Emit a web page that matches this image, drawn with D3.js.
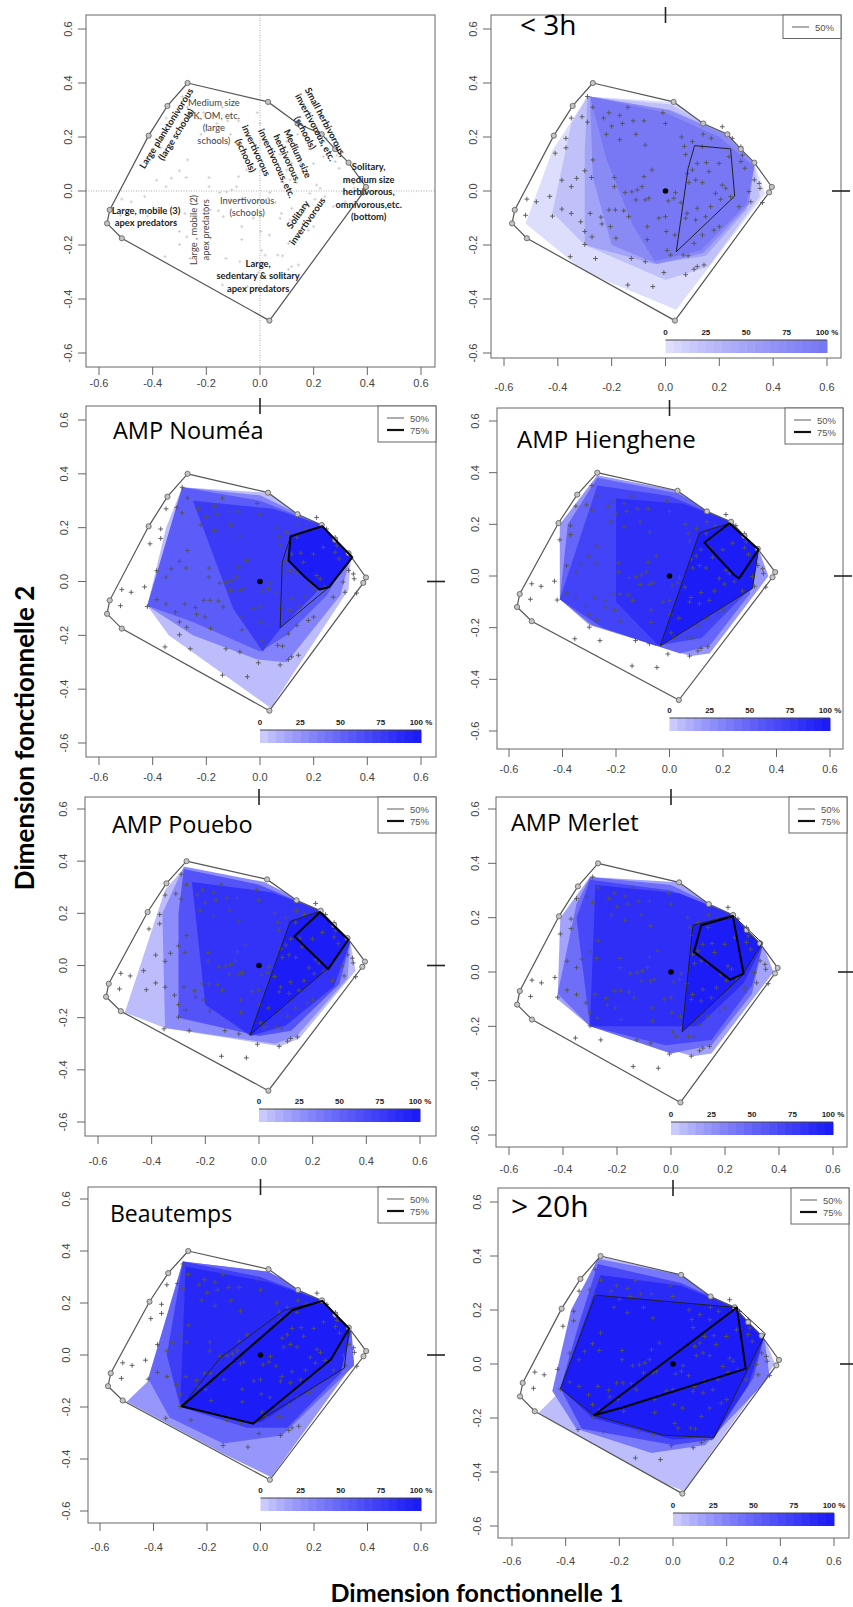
<!DOCTYPE html>
<html>
<head>
<meta charset="utf-8">
<script src="https://d3js.org/d3.v7.min.js"></script>
<style>
  body { margin: 0; background: #fff; }
  svg { display: block; }
</style>
</head>
<body>
<svg id="fig" width="853" height="1607"></svg>
<script>
// ---- data ----
const ticks = [-0.6, -0.4, -0.2, 0, 0.2, 0.4, 0.6];
const tickLabels = ["-0.6", "-0.4", "-0.2", "0.0", "0.2", "0.4", "0.6"];
const barStops = [0, 25, 50, 75, 100];
const barLabels = ["0", "25", "50", "75", "100 %"];

const titles = ["", "< 3h", "AMP Nouméa", "AMP Hienghene", "AMP Pouebo", "AMP Merlet", "Beautemps", "> 20h"];
const legendItems = [[], ["50%"], ["50%", "75%"], ["50%", "75%"], ["50%", "75%"], ["50%", "75%"], ["50%", "75%"], ["50%", "75%"]];

// global convex hull of the functional space
const hull = [[-0.27, 0.40], [0.03, 0.33], [0.14, 0.25], [0.23, 0.21], [0.28, 0.155], [0.33, 0.105],
  [0.395, 0.015], [0.385, -0.005], [0.035, -0.48], [-0.515, -0.175], [-0.57, -0.12], [-0.56, -0.07],
  [-0.415, 0.205], [-0.345, 0.315]];

// species positions
const species = [
  [-0.29, 0.35], [-0.27, 0.31], [-0.21, 0.29], [-0.14, 0.31], [-0.01, 0.29], [-0.31, 0.275], [-0.23, 0.27],
  [-0.17, 0.28], [-0.20, 0.24], [-0.16, 0.25], [-0.12, 0.26], [-0.08, 0.26], [0.0, 0.25], [-0.29, 0.255],
  [-0.35, 0.27], [-0.22, 0.21], [-0.17, 0.19], [-0.11, 0.21], [-0.075, 0.17], [0.06, 0.20], [0.14, 0.21],
  [0.17, 0.195], [0.07, 0.165], [0.075, 0.135], [-0.37, 0.195], [-0.41, 0.14], [-0.37, 0.16], [-0.27, 0.115],
  [-0.30, 0.075], [-0.275, 0.05], [-0.33, 0.047], [-0.385, 0.04], [-0.35, 0.016], [-0.19, 0.05], [-0.08, 0.053],
  [-0.05, 0.078], [-0.19, 0.016], [-0.15, -0.006], [-0.125, -0.003], [-0.105, 0.004], [-0.087, 0.016],
  [0.037, -0.006], [-0.43, -0.02], [-0.515, -0.03], [-0.48, -0.04], [-0.52, -0.09], [-0.385, -0.067],
  [-0.35, -0.083], [-0.42, -0.093], [-0.315, -0.114], [-0.28, -0.083], [-0.24, -0.097], [-0.21, -0.07],
  [-0.186, -0.07], [-0.155, -0.073], [-0.11, -0.033], [-0.075, -0.033], [-0.062, -0.027], [-0.236, -0.122],
  [-0.205, -0.132], [-0.137, -0.095], [-0.068, -0.132], [-0.025, -0.10], [0.0, -0.095], [0.003, -0.15],
  [-0.068, -0.18], [-0.273, -0.17], [-0.184, -0.175], [-0.30, -0.198], [-0.30, -0.15], [-0.26, -0.25],
  [-0.354, -0.243], [-0.127, -0.25], [-0.075, -0.262], [0.006, -0.22], [0.019, -0.237], [0.066, -0.237],
  [0.084, -0.24], [0.106, -0.194], [0.137, -0.163], [0.20, -0.132], [0.18, -0.145], [0.118, -0.28],
  [0.106, -0.29], [0.075, -0.31], [0.143, -0.274], [-0.006, -0.302], [-0.14, -0.348], [-0.047, -0.354],
  [0.035, -0.163], [0.112, -0.107], [0.149, -0.095], [0.08, -0.083], [0.118, -0.064], [0.168, -0.058],
  [0.205, -0.031], [0.186, -0.009], [0.224, 0.01], [0.242, -0.021], [0.211, 0.022], [0.087, 0.031],
  [0.112, 0.041], [0.137, 0.031], [0.10, 0.078], [0.118, 0.102], [0.152, 0.105], [0.199, 0.102],
  [0.236, 0.127], [0.161, 0.072], [0.081, 0.065], [0.28, 0.109], [0.295, 0.084], [0.33, 0.041],
  [0.348, 0.028], [0.351, 0.01], [0.31, -0.002], [0.36, -0.043], [0.317, -0.04], [0.273, -0.058],
  [0.248, 0.195], [0.137, 0.164], [0.10, 0.183], [0.211, 0.238], [0.28, 0.164], [0.286, 0.133],
  [0.031, -0.027], [0.01, -0.037], [0.058, -0.043], [0.075, -0.101]
];

// occupancy layers: [share of occurrence (0..1), polygon]
const shadeLt3h = [
  [0.12, [[-0.29, 0.35], [0.03, 0.33], [0.23, 0.21], [0.33, 0.105], [0.37, -0.01], [0.04, -0.44], [-0.3, -0.3], [-0.52, -0.12], [-0.42, 0.15]]],
  [0.3, [[-0.29, 0.35], [0.02, 0.32], [0.23, 0.21], [0.33, 0.105], [0.35, -0.02], [0.16, -0.28], [0.0, -0.33], [-0.3, -0.2], [-0.42, -0.08], [-0.35, 0.25]]],
  [0.55, [[-0.29, 0.35], [0.02, 0.3], [0.23, 0.21], [0.33, 0.1], [0.3, -0.07], [0.15, -0.24], [-0.04, -0.27], [-0.3, -0.2], [-0.3, 0.15]]],
  [0.8, [[-0.28, 0.35], [0.01, 0.3], [0.22, 0.21], [0.33, 0.1], [0.31, -0.05], [0.14, -0.23], [-0.03, -0.27], [-0.2, -0.2], [-0.27, 0.05]]],
  [1.0, [[-0.28, 0.35], [0.0, 0.29], [0.2, 0.2], [0.33, 0.09], [0.3, -0.05], [0.13, -0.22], [-0.04, -0.26], [-0.12, -0.13], [-0.22, 0.12]]]
];
const shadeNoumea = [
  [0.15, [[-0.29, 0.35], [0.03, 0.33], [0.23, 0.21], [0.34, 0.1], [0.33, -0.03], [0.04, -0.47], [-0.34, -0.2], [-0.42, -0.09], [-0.35, 0.2]]],
  [0.4, [[-0.29, 0.35], [0.0, 0.32], [0.23, 0.21], [0.34, 0.1], [0.3, -0.05], [0.1, -0.3], [-0.01, -0.29], [-0.25, -0.2], [-0.42, -0.09]]],
  [0.6, [[-0.29, 0.35], [0.0, 0.3], [0.23, 0.21], [0.34, 0.1], [0.25, -0.05], [0.1, -0.2], [0.0, -0.26], [-0.25, -0.15], [-0.42, -0.09]]],
  [0.8, [[-0.25, 0.3], [0.05, 0.27], [0.23, 0.21], [0.34, 0.1], [0.2, -0.05], [0.08, -0.17], [0.01, -0.26], [-0.1, -0.1]]],
  [1.0, [[0.114, 0.168], [0.232, 0.205], [0.344, 0.09], [0.257, -0.021], [0.222, -0.03], [0.17, 0.014], [0.106, 0.078]]]
];
const shadeHienghene = [
  [0.3, [[-0.27, 0.39], [0.03, 0.33], [0.23, 0.21], [0.33, 0.11], [0.37, 0.0], [0.15, -0.3], [0.08, -0.31], [-0.3, -0.19], [-0.41, -0.09], [-0.41, 0.2]]],
  [0.55, [[-0.27, 0.38], [0.03, 0.32], [0.23, 0.21], [0.33, 0.11], [0.3, -0.07], [0.15, -0.27], [0.04, -0.3], [-0.29, -0.19], [-0.41, -0.09], [-0.38, 0.2]]],
  [0.75, [[-0.27, 0.35], [0.0, 0.31], [0.23, 0.21], [0.33, 0.11], [0.3, -0.05], [0.12, -0.24], [-0.05, -0.27], [-0.25, -0.2], [-0.41, -0.09]]],
  [0.88, [[-0.2, 0.3], [0.05, 0.28], [0.23, 0.21], [0.33, 0.11], [0.3, -0.04], [-0.04, -0.27], [-0.2, -0.1]]],
  [1.0, [[0.112, 0.168], [0.224, 0.204], [0.333, 0.103], [0.31, -0.048], [-0.035, -0.271]]]
];
const shadePouebo = [
  [0.15, [[-0.29, 0.36], [0.03, 0.31], [0.23, 0.21], [0.34, 0.09], [0.36, -0.02], [0.15, -0.28], [0.08, -0.31], [-0.35, -0.24], [-0.5, -0.18], [-0.35, 0.29]]],
  [0.35, [[-0.28, 0.38], [0.02, 0.32], [0.23, 0.21], [0.34, 0.09], [0.33, -0.05], [0.14, -0.27], [0.06, -0.3], [-0.35, -0.24], [-0.36, 0.2]]],
  [0.65, [[-0.28, 0.37], [0.0, 0.31], [0.23, 0.21], [0.34, 0.09], [0.3, -0.07], [0.12, -0.25], [0.0, -0.27], [-0.3, -0.2], [-0.3, 0.2]]],
  [0.85, [[-0.25, 0.32], [0.05, 0.28], [0.23, 0.21], [0.34, 0.09], [0.28, -0.08], [0.1, -0.23], [-0.03, -0.27], [-0.2, -0.15]]],
  [1.0, [[0.116, 0.169], [0.227, 0.208], [0.333, 0.099], [0.258, -0.01], [-0.034, -0.267]]]
];
const shadeMerlet = [
  [0.25, [[-0.3, 0.35], [0.03, 0.33], [0.23, 0.21], [0.34, 0.1], [0.38, 0.0], [0.15, -0.3], [0.08, -0.31], [-0.3, -0.2], [-0.42, -0.1], [-0.41, 0.2]]],
  [0.5, [[-0.3, 0.35], [0.0, 0.32], [0.23, 0.21], [0.34, 0.1], [0.3, -0.08], [0.15, -0.27], [0.0, -0.3], [-0.3, -0.2], [-0.42, -0.08], [-0.35, 0.25]]],
  [0.72, [[-0.3, 0.34], [0.0, 0.3], [0.23, 0.21], [0.34, 0.1], [0.3, -0.05], [0.15, -0.25], [-0.02, -0.27], [-0.3, -0.2], [-0.35, 0.2]]],
  [0.88, [[-0.28, 0.32], [0.03, 0.29], [0.23, 0.21], [0.34, 0.1], [0.27, -0.04], [0.1, -0.2], [-0.3, -0.2]]],
  [1.0, [[0.081, 0.172], [0.229, 0.209], [0.338, 0.107], [0.262, -0.015], [0.041, -0.221]]]
];
const shadeBeautemps = [
  [0.3, [[-0.29, 0.36], [0.03, 0.32], [0.23, 0.21], [0.33, 0.11], [0.35, -0.03], [0.04, -0.47], [-0.14, -0.38], [-0.5, -0.18], [-0.42, -0.1]]],
  [0.55, [[-0.29, 0.36], [0.03, 0.32], [0.23, 0.21], [0.34, 0.1], [0.35, -0.04], [0.08, -0.31], [-0.14, -0.34], [-0.34, -0.24], [-0.42, -0.09]]],
  [0.78, [[-0.29, 0.36], [0.0, 0.3], [0.23, 0.21], [0.34, 0.1], [0.3, -0.07], [0.1, -0.28], [-0.05, -0.28], [-0.3, -0.2], [-0.35, 0.0]]],
  [0.92, [[-0.28, 0.34], [0.03, 0.28], [0.23, 0.21], [0.34, 0.1], [0.3, -0.06], [0.0, -0.26], [-0.3, -0.2]]],
  [1.0, [[-0.294, -0.197], [0.119, 0.172], [0.231, 0.208], [0.331, 0.102], [0.263, -0.017], [-0.028, -0.264]]]
];
const shadeGt20h = [
  [0.15, [[-0.28, 0.4], [0.03, 0.33], [0.23, 0.21], [0.34, 0.1], [0.38, 0.0], [0.04, -0.47], [-0.2, -0.38], [-0.5, -0.18], [-0.42, -0.1]]],
  [0.45, [[-0.28, 0.39], [0.03, 0.33], [0.23, 0.21], [0.34, 0.1], [0.36, -0.05], [0.12, -0.3], [-0.08, -0.33], [-0.36, -0.24], [-0.45, -0.1], [-0.38, 0.2]]],
  [0.72, [[-0.28, 0.37], [0.03, 0.3], [0.23, 0.21], [0.34, 0.1], [0.3, -0.05], [0.15, -0.28], [0.0, -0.3], [-0.34, -0.24], [-0.42, -0.09], [-0.35, 0.15]]],
  [0.9, [[-0.27, 0.33], [0.03, 0.29], [0.23, 0.21], [0.34, 0.1], [0.28, -0.08], [0.15, -0.27], [0.0, -0.28], [-0.3, -0.2], [-0.42, -0.09]]],
  [1.0, [[-0.289, 0.255], [0.238, 0.209], [0.344, 0.112], [0.153, -0.272], [-0.035, -0.264], [-0.294, -0.19], [-0.419, -0.091]]]
];
const shades = [[], shadeLt3h, shadeNoumea, shadeHienghene, shadePouebo, shadeMerlet, shadeBeautemps, shadeGt20h];
const maxColors = [null, "#7878f4", "#1c1cf6", "#1c1cf6", "#1c1cf6", "#1c1cf6", "#1c1cf6", "#1c1cf6"];

// 50% and 75% occupancy contours
const contour50 = [null,
  [[0.108, 0.168], [0.242, 0.156], [0.257, -0.019], [0.04, -0.225], [0.084, 0.084]],
  [[0.114, 0.168], [0.232, 0.205], [0.344, 0.09], [0.257, -0.021], [0.075, -0.172], [0.083, 0.072]],
  [[0.112, 0.168], [0.224, 0.204], [0.333, 0.103], [0.31, -0.048], [-0.035, -0.271]],
  [[0.116, 0.169], [0.227, 0.208], [0.333, 0.099], [0.258, -0.01], [-0.034, -0.267]],
  [[0.081, 0.172], [0.229, 0.209], [0.338, 0.107], [0.262, -0.015], [0.041, -0.221]],
  [[-0.294, -0.197], [-0.15, -0.01], [0.088, 0.172], [0.231, 0.208], [0.331, 0.102], [0.313, -0.051], [-0.025, -0.264]],
  [[-0.289, 0.255], [0.238, 0.209], [0.344, 0.112], [0.153, -0.272], [-0.035, -0.264], [-0.294, -0.19], [-0.419, -0.091]]
];
const contour75 = [null, null,
  [[0.114, 0.168], [0.232, 0.205], [0.344, 0.09], [0.257, -0.021], [0.222, -0.03], [0.17, 0.014], [0.106, 0.078]],
  [[0.13, 0.129], [0.224, 0.204], [0.333, 0.103], [0.26, -0.009], [0.242, 0.004]],
  [[0.132, 0.112], [0.227, 0.204], [0.333, 0.099], [0.258, -0.014]],
  [[0.112, 0.172], [0.229, 0.205], [0.269, -0.006], [0.219, -0.028], [0.085, 0.074]],
  [[-0.294, -0.197], [0.119, 0.172], [0.231, 0.208], [0.331, 0.102], [0.263, -0.017], [-0.028, -0.264]],
  [[-0.294, -0.19], [0.238, 0.209], [0.271, -0.017], [-0.185, -0.16]]
];

// functional group labels of the first panel (x, y in plot units)
const groups = [
  { lines: ["Large planktonivorous", "(large schools)"], x: -0.33, y: 0.22, angle: -58, bold: true },
  { lines: ["Medium size", "PK, OM, etc.", "(large", "schools)"], x: -0.172, y: 0.255, angle: 0, bold: false },
  { lines: ["Small herbivorous,", "invertivorous, etc.", "(schools)"], x: 0.205, y: 0.235, angle: 62, bold: true },
  { lines: ["Medium size", "herbivorous,", "invertivorous, etc."], x: 0.1, y: 0.12, angle: 65, bold: true },
  { lines: ["invertivorous", "(schools)"], x: -0.035, y: 0.14, angle: 65, bold: true },
  { lines: ["Solitary,", "medium size", "herbivorous,", "omnivorous,etc.", "(bottom)"], x: 0.405, y: -0.004, angle: 0, bold: true },
  { lines: ["Large, mobile (3)", "apex predators"], x: -0.425, y: -0.096, angle: 0, bold: true },
  { lines: ["Large , mobile (2)", "apex predators"], x: -0.224, y: -0.144, angle: -90, bold: false },
  { lines: ["Invertivorous", "(schools)"], x: -0.048, y: -0.06, angle: 0, bold: false },
  { lines: ["Solitary", "invertivorous"], x: 0.16, y: -0.1, angle: -55, bold: true },
  { lines: ["Large,", "sedentary & solitary", "apex predators"], x: -0.007, y: -0.315, angle: 0, bold: true }
];

// ---- layout (pixels) ----
const layout = [
  { box: [86, 15, 435, 367], xr: [99, 421], yr: [29, 353], labY: 387, yLab: 18 },
  { box: [491, 15, 841, 358], xr: [504, 827], yr: [29, 353], labY: 391, yLab: 18, t: [520, 35, 28] },
  { box: [86, 406, 436, 757], xr: [99, 421], yr: [420, 743], labY: 781, yLab: 22, t: [113, 439, 23.5] },
  { box: [497, 408, 843, 749], xr: [509, 830], yr: [421, 731], labY: 773, yLab: 22, t: [517, 448, 24] },
  { box: [85, 797, 436, 1136], xr: [98, 420], yr: [809, 1122], labY: 1165, yLab: 22, t: [112, 833, 23.5] },
  { box: [496, 797, 847, 1147], xr: [509, 833], yr: [809, 1135], labY: 1173, yLab: 21, t: [511, 831, 23.5] },
  { box: [88, 1187, 436, 1523], xr: [100, 421], yr: [1199, 1511], labY: 1551, yLab: 22, t: [110, 1222, 23] },
  { box: [498, 1188, 849, 1538], xr: [512, 834], yr: [1202, 1526], labY: 1565, yLab: 21, t: [511, 1217, 30] }
];

const svg = d3.select("#fig");
const line = d3.line();
// occupancy share -> colour position (R's ramp saturates early)
const ramp = v => Math.pow(v, 0.65);

layout.forEach((L, i) => {
  const [bl, bt, br, bb] = L.box;
  const x = d3.scaleLinear().domain([-0.6, 0.6]).range(L.xr);
  const y = d3.scaleLinear().domain([0.6, -0.6]).range(L.yr);
  const g = svg.append("g");
  const P = pts => pts.map(d => [x(d[0]), y(d[1])]);

  // hull clip
  const clipId = "clip" + i;
  svg.append("defs").append("clipPath").attr("id", clipId)
    .append("path").attr("d", line(P(hull)) + "Z");

  // occupancy shading
  if (shades[i].length) {
    const col = d3.interpolateRgb("#ffffff", maxColors[i]);
    g.append("g").attr("clip-path", `url(#${clipId})`)
      .selectAll("path").data(shades[i]).join("path")
      .attr("d", d => line(P(d[1])) + "Z")
      .attr("fill", d => col(ramp(d[0])))
      .attr("stroke", "none");
  }

  // origin cross lines in first panel
  if (i === 0) {
    g.append("line").attr("x1", x(0)).attr("x2", x(0)).attr("y1", bt).attr("y2", bb)
      .attr("stroke", "#999").attr("stroke-width", 0.8).attr("stroke-dasharray", "1,1.5");
    g.append("line").attr("x1", bl).attr("x2", br).attr("y1", y(0)).attr("y2", y(0))
      .attr("stroke", "#999").attr("stroke-width", 0.8).attr("stroke-dasharray", "1,1.5");
  }

  // species
  g.append("g").selectAll("path").data(species).join("path")
    .attr("transform", d => `translate(${x(d[0])},${y(d[1])})`)
    .attr("d", i === 0 ? "M-1.6,0H1.6M0,-1.6V1.6" : "M-2.4,0H2.4M0,-2.4V2.4")
    .attr("stroke", i === 0 ? "#c8c8c8" : "#555")
    .attr("stroke-width", i === 0 ? 0.8 : 0.9)
    .attr("fill", "none");

  // hull outline and vertices
  g.append("path").attr("d", line(P(hull)) + "Z")
    .attr("fill", "none").attr("stroke", "#555").attr("stroke-width", 1.2);
  g.append("g").selectAll("circle").data(hull).join("circle")
    .attr("cx", d => x(d[0])).attr("cy", d => y(d[1])).attr("r", 2.6)
    .attr("fill", "#c4c4c4").attr("stroke", "#666").attr("stroke-width", 0.9);

  // contours
  if (contour50[i]) {
    g.append("path").attr("d", line(P(contour50[i])) + "Z")
      .attr("fill", "none").attr("stroke", "#222").attr("stroke-width", 1);
  }
  if (contour75[i]) {
    g.append("path").attr("d", line(P(contour75[i])) + "Z")
      .attr("fill", "none").attr("stroke", "#000").attr("stroke-width", 2).attr("stroke-linejoin", "round");
  }
  if (i > 0) {
    g.append("circle").attr("cx", x(0)).attr("cy", y(0)).attr("r", 2.8).attr("fill", "#000");
  }

  // group labels (first panel)
  if (i === 0) {
    groups.forEach(gr => {
      const n = gr.lines.length, lh = gr.angle === 0 ? 12.5 : 11.5;
      const t = g.append("text")
        .attr("transform", `translate(${x(gr.x)},${y(gr.y)}) rotate(${gr.angle})`)
        .attr("text-anchor", "middle")
        .attr("font-family", "Lato, 'Open Sans', sans-serif")
        .attr("font-size", 9.4)
        .attr("font-weight", gr.bold ? "bold" : "normal")
        .attr("fill", gr.bold ? "#222" : "#444");
      gr.lines.forEach((s, k) => {
        t.append("tspan").attr("x", 0).attr("y", (k - (n - 1) / 2) * lh + 3).text(s);
      });
    });
  }

  // box
  g.append("rect").attr("x", bl).attr("y", bt).attr("width", br - bl).attr("height", bb - bt)
    .attr("fill", "none").attr("stroke", "#666").attr("stroke-width", 1);

  // axes
  const xa = g.append("g");
  ticks.forEach((v, k) => {
    xa.append("line").attr("x1", x(v)).attr("x2", x(v)).attr("y1", bb).attr("y2", bb + 8)
      .attr("stroke", "#666").attr("stroke-width", 1);
    xa.append("text").attr("x", x(v)).attr("y", L.labY).attr("text-anchor", "middle")
      .attr("font-family", "'Liberation Sans', Arial, sans-serif").attr("font-size", 11)
      .attr("fill", "#444").text(tickLabels[k]);
    xa.append("line").attr("y1", y(v)).attr("y2", y(v)).attr("x1", bl).attr("x2", bl - 8)
      .attr("stroke", "#666").attr("stroke-width", 1);
    xa.append("text")
      .attr("transform", `translate(${bl - L.yLab + 4},${y(v)}) rotate(-90)`)
      .attr("text-anchor", "middle")
      .attr("font-family", "'Liberation Sans', Arial, sans-serif").attr("font-size", 11)
      .attr("fill", "#444").text(tickLabels[k]);
  });

  if (i === 0) return;

  // stray ticks at x = 0 on top and y = 0 on the right
  g.append("line").attr("x1", x(0)).attr("x2", x(0)).attr("y1", bt - 8).attr("y2", bt + 8)
    .attr("stroke", "#222").attr("stroke-width", 1.6);
  g.append("line").attr("x1", br - 9).attr("x2", br + 9).attr("y1", y(0)).attr("y2", y(0))
    .attr("stroke", "#222").attr("stroke-width", 1.6);

  // legend
  const items = legendItems[i];
  const lw = 58, lhgt = 11 + 12.5 * items.length;
  const lg = g.append("g").attr("transform", `translate(${br - lw},${bt})`);
  lg.append("rect").attr("width", lw).attr("height", lhgt)
    .attr("fill", "#fff").attr("stroke", "#666").attr("stroke-width", 1);
  items.forEach((s, k) => {
    const yy = 12 + 12 * k;
    lg.append("line").attr("x1", 9).attr("x2", 26).attr("y1", yy).attr("y2", yy)
      .attr("stroke", k === 0 ? "#777" : "#111").attr("stroke-width", k === 0 ? 1.2 : 2.2);
    lg.append("text").attr("x", 32).attr("y", yy + 3.5)
      .attr("font-family", "'Liberation Sans', Arial, sans-serif").attr("font-size", 9.5)
      .attr("fill", "#555").text(s);
  });

  // colour bar
  const bx = d3.scaleLinear().domain([0, 100]).range([x(0), x(0.6)]);
  const barB = y(-0.6), barT = barB - 13;
  const col = d3.interpolateRgb("#ffffff", maxColors[i]);
  const steps = d3.range(0, 100, 5);
  g.append("g").selectAll("rect").data(steps).join("rect")
    .attr("x", d => bx(d)).attr("y", barT)
    .attr("width", d => bx(d + 5) - bx(d) + 0.5).attr("height", barB - barT)
    .attr("fill", d => col(ramp(0.06 + 0.94 * (d + 5) / 100)));
  g.append("line").attr("x1", bx(0)).attr("x2", bx(100)).attr("y1", barT).attr("y2", barT)
    .attr("stroke", "#444").attr("stroke-width", 1);
  barStops.forEach((v, k) => {
    g.append("text").attr("x", bx(v)).attr("y", barT - 5).attr("text-anchor", "middle")
      .attr("font-family", "'Liberation Sans', Arial, sans-serif").attr("font-size", 8)
      .attr("font-weight", "bold").attr("fill", "#222").text(barLabels[k]);
  });

  // title
  g.append("text").attr("x", L.t[0]).attr("y", L.t[1])
    .attr("font-family", "'Open Sans', sans-serif").attr("font-size", L.t[2])
    .attr("fill", "#000").text(titles[i]);
});

// axis titles
svg.append("text").attr("x", 477).attr("y", 1602).attr("text-anchor", "middle")
  .attr("font-family", "Lato, sans-serif").attr("font-weight", "bold").attr("font-size", 25)
  .attr("fill", "#000").text("Dimension fonctionnelle 1");
svg.append("text").attr("transform", "translate(34,738) rotate(-90)").attr("text-anchor", "middle")
  .attr("font-family", "Lato, sans-serif").attr("font-weight", "bold").attr("font-size", 26)
  .attr("fill", "#000").text("Dimension fonctionnelle 2");
</script>
</body>
</html>
